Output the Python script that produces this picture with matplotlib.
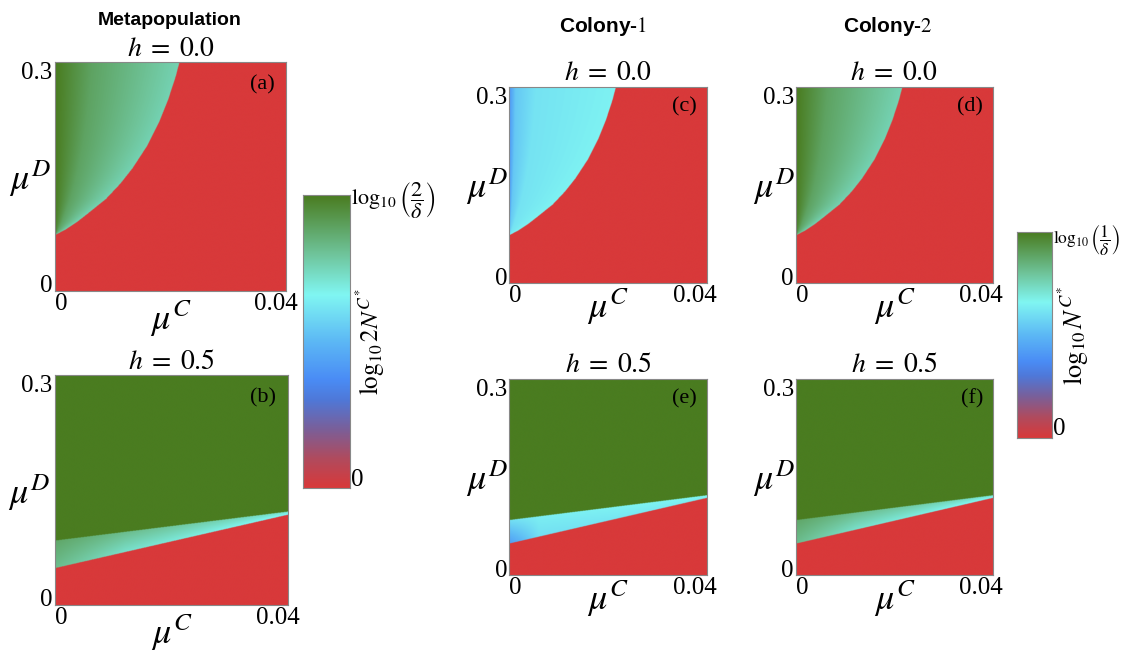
import numpy as np
import matplotlib.pyplot as plt
from matplotlib.colors import LinearSegmentedColormap

plt.rcParams['font.family'] = 'Liberation Serif'
plt.rcParams['mathtext.fontset'] = 'stix'

# colour scale (0 = red, 1 = dark green)
cmap_pos = [0.0, 0.1, 0.2, 0.3, 0.37, 0.5, 0.66, 0.8, 1.0]
cmap_col = ['#d8393a', '#b04b5e', '#7a5f99', '#4f78d8', '#4a8cf5',
            '#5cb8f5', '#80f6f2', '#6fc49a', '#4a7c20']
cmap = LinearSegmentedColormap.from_list('nc', list(zip(cmap_pos, cmap_col)))

# h = 0.0 : boundary between survival and extinction (mu_C, mu_D)
b0_muD = [0.073, 0.080, 0.090, 0.100, 0.120, 0.140, 0.160, 0.190, 0.220, 0.250, 0.280, 0.300]
b0_muC = [0.0, 0.0018, 0.0038, 0.0055, 0.0088, 0.0113, 0.0134, 0.0160, 0.0180, 0.0196, 0.0209, 0.0216]

# value across the surviving region, from mu_C = 0 (frac 0) to the boundary (frac 1)
meta0_pos = [0.0, 0.3, 1.0]
meta0_val = [1.0, 0.89, 0.76]
col1_0_pos = [0.0, 0.06, 0.25, 1.0]
col1_0_val = [0.40, 0.54, 0.61, 0.65]
col2_0_pos = [0.0, 0.3, 1.0]
col2_0_val = [1.0, 0.89, 0.76]

# h = 0.5 : lower and upper edges of the intermediate band
low_muC = [0.0, 0.04]
low_muD = [0.048, 0.118]
up_muC = [0.0, 0.04]
up_muD = [0.084, 0.122]

# band values along mu_C (fraction of 0.04) at the lower and upper edges
meta5_pos = [0.0, 0.3, 1.0]
meta5_low = [0.82, 0.72, 0.64]
meta5_up = [0.88, 0.82, 0.72]
col1_5_pos = [0.0, 0.15, 1.0]
col1_5_low = [0.42, 0.60, 0.64]
col1_5_up = [0.60, 0.64, 0.66]
col2_5_pos = [0.0, 0.3, 1.0]
col2_5_low = [0.82, 0.72, 0.64]
col2_5_up = [0.88, 0.82, 0.72]

muC = np.linspace(0, 0.04, 600)
muD = np.linspace(0, 0.3, 600)
C, D = np.meshgrid(muC, muD)


def field_h0(pos, val):
    xb = np.interp(D, b0_muD, b0_muC)
    inside = (D >= b0_muD[0]) & (C <= xb)
    Z = np.zeros_like(C)
    frac = C[inside] / np.maximum(xb[inside], 1e-9)
    Z[inside] = np.interp(frac, pos, val)
    return Z


def field_h5(pos, lowv, upv):
    lo = np.interp(C, low_muC, low_muD)
    up = np.interp(C, up_muC, up_muD)
    Z = np.where(D >= up, 1.0, 0.0)
    band = (D >= lo) & (D < up)
    s = (D - lo) / (up - lo)
    xf = C / 0.04
    vlo = np.interp(xf, pos, lowv)
    vup = np.interp(xf, pos, upv)
    Z[band] = (vlo + s * (vup - vlo))[band]
    return Z


fig = plt.figure(figsize=(11.34, 6.51), dpi=100)

panels = [
    ([0.0485, 0.553, 0.2037, 0.352], field_h0(meta0_pos, meta0_val), '(a)', r'$h\;=\;0.0$', 1),
    ([0.0485, 0.0707, 0.2055, 0.3533], field_h5(meta5_pos, meta5_low, meta5_up), '(b)', r'$h\;=\;0.5$', 3),
    ([0.4489, 0.5653, 0.1746, 0.301], field_h0(col1_0_pos, col1_0_val), '(c)', r'$h\;=\;0.0$', 5),
    ([0.4489, 0.1167, 0.1746, 0.301], field_h5(col1_5_pos, col1_5_low, col1_5_up), '(e)', r'$h\;=\;0.5$', 5),
    ([0.7019, 0.5653, 0.1737, 0.301], field_h0(col2_0_pos, col2_0_val), '(d)', r'$h\;=\;0.0$', 5),
    ([0.7019, 0.1167, 0.1737, 0.301], field_h5(col2_5_pos, col2_5_low, col2_5_up), '(f)', r'$h\;=\;0.5$', 5),
]

for rect, Z, letter, title, pad in panels:
    ax = fig.add_axes(rect)
    ax.imshow(Z, origin='lower', extent=[0, 0.04, 0, 0.3], aspect='auto',
              cmap=cmap, vmin=0, vmax=1, interpolation='bilinear')
    ax.set_xticks([])
    ax.set_yticks([])
    for sp in ax.spines.values():
        sp.set_color('#888888')
        sp.set_linewidth(0.8)
    ax.set_title(title, fontsize=20, pad=pad)
    ax.text(0.95, 0.90, letter, transform=ax.transAxes, ha='right', va='center', fontsize=16)
    ax.text(-0.01, 1.0, '0.3', transform=ax.transAxes, ha='right', va='top', fontsize=18)
    ax.text(-0.01, 0.02, '0', transform=ax.transAxes, ha='right', va='center', fontsize=18)
    ax.text(0.0, -0.01, '0', transform=ax.transAxes, ha='left', va='top', fontsize=18)
    ax.text(1.05, -0.01, '0.04', transform=ax.transAxes, ha='right', va='top', fontsize=18)
    ax.text(-0.11, 0.49, r'$\mu^D$', transform=ax.transAxes, ha='center', va='center', fontsize=26)
    ax.text(0.5, -0.12, r'$\mu^C$', transform=ax.transAxes, ha='center', va='center', fontsize=26)

# column headers
fig.text(0.15, 0.968, 'Metapopulation', ha='center', va='center', fontsize=14,
         fontweight='bold', family='Liberation Sans')
fig.text(0.532, 0.960, r'Colony-$1$', ha='center', va='center', fontsize=15,
         fontweight='bold', family='Liberation Sans')
fig.text(0.783, 0.960, r'Colony-$2$', ha='center', va='center', fontsize=15,
         fontweight='bold', family='Liberation Sans')

# colour bars
grad = np.linspace(0, 1, 256).reshape(-1, 1)
cbars = [
    ([0.2672, 0.2504, 0.0414, 0.45], r'$\log_{10}\left(\dfrac{2}{\delta}\right)$', 16,
     r'$\log_{10}2N^{C^{*}}$', 18, 1.45),
    ([0.8968, 0.3272, 0.0309, 0.3164], r'$\log_{10}\left(\dfrac{1}{\delta}\right)$', 12.5,
     r'$\log_{10}N^{C^{*}}$', 19, 1.6),
]
for rect, toplab, tsize, lab, lsize, lx in cbars:
    cax = fig.add_axes(rect)
    cax.imshow(grad, origin='lower', extent=[0, 1, 0, 1], aspect='auto', cmap=cmap)
    cax.set_xticks([])
    cax.set_yticks([])
    for sp in cax.spines.values():
        sp.set_color('#888888')
        sp.set_linewidth(0.8)
    cax.text(1.03, 1.05, toplab, transform=cax.transAxes, ha='left', va='top', fontsize=tsize)
    cax.text(1.03, -0.01, '0', transform=cax.transAxes, ha='left', va='bottom', fontsize=18)
    cax.text(lx, 0.5, lab, transform=cax.transAxes, ha='center', va='center',
             rotation=90, fontsize=lsize)

fig.savefig('out.png', dpi=100)
